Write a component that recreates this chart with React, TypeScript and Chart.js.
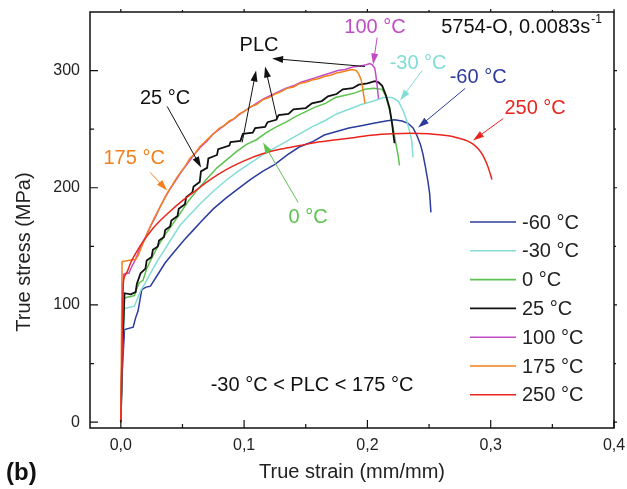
import { useEffect, useRef } from "react";
import { Chart, registerables } from "chart.js";

Chart.register(...registerables);

const FONT = '"Liberation Sans", Arial, Helvetica, sans-serif';

// ---------- data (true strain, true stress MPa) ----------
const strainM60 = [0, 0.001, 0.003, 0.010, 0.012, 0.014, 0.017, 0.020, 0.024, 0.030, 0.036, 0.043, 0.051, 0.058, 0.065, 0.075, 0.085, 0.095, 0.105, 0.115, 0.125, 0.135, 0.145, 0.155, 0.165, 0.175, 0.185, 0.195, 0.205, 0.215, 0.222, 0.228, 0.233, 0.237, 0.240, 0.243, 0.245, 0.247, 0.249, 0.2505, 0.2515];
const stressM60 = [0, 40, 79, 81, 89, 95, 113, 115, 116, 126, 136, 145, 155, 163, 171, 182, 191, 199, 207, 214, 220, 228, 235, 239, 245, 248, 251, 253, 255, 257, 258, 257, 255, 251, 245, 237, 229, 218, 206, 195, 179];

const strainM30 = [0, 0.001, 0.003, 0.011, 0.013, 0.016, 0.020, 0.024, 0.030, 0.036, 0.042, 0.048, 0.056, 0.065, 0.075, 0.085, 0.095, 0.105, 0.115, 0.125, 0.135, 0.145, 0.155, 0.165, 0.175, 0.185, 0.195, 0.205, 0.213, 0.220, 0.225, 0.229, 0.232, 0.234, 0.236, 0.237];
const stressM30 = [0, 50, 97, 99, 104, 112, 119, 127, 138, 148, 158, 168, 177, 187, 197, 206, 214, 221, 228, 234, 240, 246, 252, 257, 263, 267, 271, 274, 277, 277, 274, 266, 257, 249, 240, 226];

const strain0 = [0, 0.001, 0.003, 0.011, 0.013, 0.015, 0.018, 0.021, 0.025, 0.030, 0.036, 0.042, 0.048, 0.055, 0.062, 0.070, 0.078, 0.086, 0.094, 0.102, 0.110, 0.118, 0.126, 0.134, 0.142, 0.150, 0.158, 0.166, 0.174, 0.182, 0.190, 0.198, 0.205, 0.212, 0.215, 0.218, 0.221, 0.223, 0.225, 0.226];
const stress0 = [0, 55, 106, 108, 114, 119, 121, 131, 140, 150, 160, 169, 178, 189, 198, 208, 217, 224, 231, 237, 241, 247, 252, 256, 261, 265, 269, 272, 277, 279, 281, 284, 285, 284, 278, 266, 250, 238, 227, 219];

const strain25 = [0, 0.001, 0.003, 0.008, 0.012, 0.013, 0.016, 0.020, 0.021, 0.025, 0.026, 0.030, 0.031, 0.035, 0.036, 0.040, 0.041, 0.046, 0.047, 0.052, 0.053, 0.058, 0.059, 0.064, 0.065, 0.070, 0.071, 0.078, 0.079, 0.088, 0.089, 0.097, 0.099, 0.107, 0.109, 0.117, 0.119, 0.126, 0.128, 0.136, 0.140, 0.150, 0.155, 0.163, 0.168, 0.175, 0.180, 0.188, 0.193, 0.200, 0.206, 0.209, 0.212, 0.215, 0.218, 0.220, 0.221, 0.222];
const stress25 = [0, 55, 110, 109, 111, 118, 127, 131, 138, 141, 147, 150, 155, 158, 164, 167, 172, 176, 182, 186, 192, 196, 201, 205, 214, 217, 225, 228, 233, 236, 239, 240, 246, 247, 251, 252, 256, 258, 262, 263, 267, 268, 272, 274, 278, 280, 284, 285, 288, 289, 291, 290, 287, 279, 268, 255, 246, 238];

const strain100 = [0, 0.001, 0.002, 0.004, 0.0065, 0.009, 0.012, 0.016, 0.020, 0.024, 0.028, 0.032, 0.036, 0.040, 0.045, 0.050, 0.055, 0.060, 0.065, 0.070, 0.075, 0.080, 0.086, 0.092, 0.098, 0.104, 0.110, 0.116, 0.122, 0.128, 0.134, 0.140, 0.146, 0.152, 0.158, 0.164, 0.170, 0.176, 0.182, 0.188, 0.194, 0.199, 0.202, 0.204, 0.206, 0.207, 0.208, 0.209];
const stress100 = [0, 65, 126, 127, 127, 133, 139, 150, 158, 167, 175, 184, 192, 199, 207, 215, 222, 229, 235, 240, 246, 250, 255, 259, 264, 268, 272, 276, 279, 282, 285, 287, 290, 292, 294, 296, 298, 300, 301, 303, 304, 305, 306, 305, 302, 295, 286, 276];

const strain175 = [0, 0.0005, 0.001, 0.006, 0.012, 0.014, 0.017, 0.021, 0.024, 0.027, 0.031, 0.034, 0.038, 0.041, 0.045, 0.049, 0.052, 0.056, 0.060, 0.064, 0.068, 0.072, 0.076, 0.080, 0.084, 0.088, 0.092, 0.096, 0.100, 0.105, 0.110, 0.115, 0.120, 0.125, 0.130, 0.135, 0.140, 0.145, 0.150, 0.155, 0.160, 0.165, 0.170, 0.175, 0.180, 0.184, 0.188, 0.191, 0.193, 0.195, 0.196, 0.197, 0.198];
const stress175 = [0, 70, 137, 138, 139, 142, 150, 160, 167, 174, 182, 188, 196, 201, 208, 214, 218, 225, 229, 235, 239, 243, 247, 251, 253, 257, 259, 263, 265, 269, 271, 275, 277, 280, 282, 285, 286, 289, 290, 292, 293, 295, 296, 298, 299, 300, 301, 300, 297, 292, 286, 279, 272];

const strain250 = [0, 0.001, 0.002, 0.004, 0.008, 0.012, 0.018, 0.025, 0.032, 0.040, 0.050, 0.060, 0.070, 0.080, 0.090, 0.100, 0.115, 0.130, 0.145, 0.160, 0.175, 0.190, 0.205, 0.220, 0.235, 0.250, 0.260, 0.268, 0.275, 0.281, 0.286, 0.290, 0.294, 0.297, 0.299, 0.301];
const stress250 = [0, 60, 118, 126, 136, 144, 154, 164, 172, 180, 189, 197, 205, 212, 218, 223, 229, 233, 236, 239, 241, 243, 245, 246, 246.5, 246, 245, 244, 242, 240, 237, 233, 227, 220, 214, 207];

const seriesLabels = ["-60 °C", "-30 °C", "0 °C", "25 °C", "100 °C", "175 °C", "250 °C"];
const seriesColors = ["#2c3c9c", "#84dcd6", "#5dc250", "#111111", "#c24cc6", "#f4801c", "#e8261e"];
const seriesStrain = [strainM60, strainM30, strain0, strain25, strain100, strain175, strain250];
const seriesStress = [stressM60, stressM30, stress0, stress25, stress100, stress175, stress250];
const seriesOrder = [6, 5, 4, 3, 2, 1, 0];

const xTicks = [0, 0.1, 0.2, 0.3, 0.4];
const xMinorTicks = [0.05, 0.15, 0.25, 0.35];
const yTicks = [0, 100, 200, 300];
const yMinorTicks = [50, 150, 250];

const xTitle = "True strain (mm/mm)";
const yTitle = "True stress (MPa)";
const noteText = "-30 °C < PLC < 175 °C";

// text labels in data coordinates
const labels = [
  { text: "100 °C", color: "#c24cc6", x: 0.2062, y: 336.8 },
  { text: "PLC", color: "#111111", x: 0.1121, y: 321.4 },
  { text: "25 °C", color: "#111111", x: 0.0359, y: 276.2 },
  { text: "175 °C", color: "#f4801c", x: 0.0108, y: 225.0 },
  { text: "0 °C", color: "#5dc250", x: 0.1519, y: 174.7 },
  { text: "-30 °C", color: "#84dcd6", x: 0.2411, y: 306.1 },
  { text: "-60 °C", color: "#2c3c9c", x: 0.2898, y: 294.1 },
  { text: "250 °C", color: "#e8261e", x: 0.336, y: 267.7 },
  { text: noteText, color: "#111111", x: 0.1551, y: 31.3 },
];

// arrows in data coordinates (tail -> head)
const arrows = [
  { color: "#c24cc6", x1: 0.2079, y1: 328.2, x2: 0.2046, y2: 305.2 },
  { color: "#111111", x1: 0.1981, y1: 303.5, x2: 0.1227, y2: 310.3 },
  { color: "#111111", x1: 0.0984, y1: 238.7, x2: 0.1097, y2: 300.1 },
  { color: "#111111", x1: 0.1268, y1: 258.3, x2: 0.1170, y2: 303.5 },
  { color: "#111111", x1: 0.0376, y1: 269.4, x2: 0.0651, y2: 217.3 },
  { color: "#f4801c", x1: 0.0238, y1: 213.1, x2: 0.0376, y2: 197.7 },
  { color: "#5dc250", x1: 0.1438, y1: 187.5, x2: 0.1154, y2: 238.7 },
  { color: "#84dcd6", x1: 0.2444, y1: 300.1, x2: 0.2265, y2: 274.5 },
  { color: "#2c3c9c", x1: 0.2793, y1: 284.8, x2: 0.2411, y2: 251.4 },
  { color: "#e8261e", x1: 0.3101, y1: 259.1, x2: 0.2857, y2: 240.4 },
];

const fmtX = (v: number) => v.toFixed(1).replace(".", ",");

function drawArrow(ctx: CanvasRenderingContext2D, x1: number, y1: number, x2: number, y2: number, color: string) {
  const ang = Math.atan2(y2 - y1, x2 - x1);
  const L = 11;
  const W = 3.5;
  ctx.strokeStyle = color;
  ctx.fillStyle = color;
  ctx.lineWidth = 1;
  ctx.beginPath();
  ctx.moveTo(x1, y1);
  ctx.lineTo(x2 - L * 0.7 * Math.cos(ang), y2 - L * 0.7 * Math.sin(ang));
  ctx.stroke();
  ctx.beginPath();
  ctx.moveTo(x2, y2);
  ctx.lineTo(x2 - L * Math.cos(ang) + W * Math.sin(ang), y2 - L * Math.sin(ang) - W * Math.cos(ang));
  ctx.lineTo(x2 - L * Math.cos(ang) - W * Math.sin(ang), y2 - L * Math.sin(ang) + W * Math.cos(ang));
  ctx.closePath();
  ctx.fill();
}

const overlay = {
  id: "overlay",
  afterDatasetsDraw(chart: any) {
    const { ctx, chartArea: ca, scales } = chart;
    const xs = scales.x;
    const ys = scales.y;
    ctx.save();

    // frame
    ctx.strokeStyle = "#111";
    ctx.lineWidth = 1.5;
    ctx.strokeRect(ca.left, ca.top, ca.right - ca.left, ca.bottom - ca.top);

    // ticks
    ctx.lineWidth = 1.2;
    ctx.beginPath();
    xTicks.forEach((v) => {
      const px = xs.getPixelForValue(v);
      ctx.moveTo(px, ca.bottom);
      ctx.lineTo(px, ca.bottom - 8);
      ctx.moveTo(px, ca.top);
      ctx.lineTo(px, ca.top - 3);
    });
    xMinorTicks.forEach((v) => {
      const px = xs.getPixelForValue(v);
      ctx.moveTo(px, ca.bottom);
      ctx.lineTo(px, ca.bottom - 4);
      ctx.moveTo(px, ca.top);
      ctx.lineTo(px, ca.top - 2);
    });
    yTicks.forEach((v) => {
      const py = ys.getPixelForValue(v);
      ctx.moveTo(ca.left, py);
      ctx.lineTo(ca.left + 8, py);
      ctx.moveTo(ca.right, py);
      ctx.lineTo(ca.right + 3, py);
    });
    yMinorTicks.forEach((v) => {
      const py = ys.getPixelForValue(v);
      ctx.moveTo(ca.left, py);
      ctx.lineTo(ca.left + 4, py);
      ctx.moveTo(ca.right, py);
      ctx.lineTo(ca.right + 2, py);
    });
    ctx.stroke();

    // tick labels
    ctx.fillStyle = "#222";
    ctx.font = `16px ${FONT}`;
    ctx.textBaseline = "middle";
    ctx.textAlign = "center";
    xTicks.forEach((v) => ctx.fillText(fmtX(v), xs.getPixelForValue(v), ca.bottom + 18));
    ctx.textAlign = "right";
    yTicks.forEach((v) => ctx.fillText(String(v), ca.left - 10, ys.getPixelForValue(v)));

    // axis titles
    ctx.font = `20px ${FONT}`;
    ctx.textAlign = "center";
    ctx.fillText(xTitle, (ca.left + ca.right) / 2, ca.bottom + 44);
    ctx.save();
    ctx.translate(24, (ca.top + ca.bottom) / 2 + 32);
    ctx.rotate(-Math.PI / 2);
    ctx.fillText(yTitle, 0, 0);
    ctx.restore();

    // panel label
    ctx.font = `bold 24px ${FONT}`;
    ctx.textAlign = "left";
    ctx.fillStyle = "#111";
    ctx.fillText("(b)", 6, ca.bottom + 45);

    // condition label with superscript
    ctx.font = `20px ${FONT}`;
    ctx.fillStyle = "#111";
    const mainTxt = "5754-O, 0.0083s";
    const tx = xs.getPixelForValue(0.2598);
    const ty = ys.getPixelForValue(336.8);
    ctx.fillText(mainTxt, tx, ty);
    const w = ctx.measureText(mainTxt).width;
    ctx.font = `12px ${FONT}`;
    ctx.fillText("-1", tx + w + 1, ty - 8);

    // annotations
    ctx.font = `20px ${FONT}`;
    ctx.textAlign = "center";
    labels.forEach((l) => {
      ctx.fillStyle = l.color;
      ctx.fillText(l.text, xs.getPixelForValue(l.x), ys.getPixelForValue(l.y));
    });
    arrows.forEach((a) =>
      drawArrow(ctx, xs.getPixelForValue(a.x1), ys.getPixelForValue(a.y1), xs.getPixelForValue(a.x2), ys.getPixelForValue(a.y2), a.color)
    );

    // legend
    const lx0 = ca.right - 144;
    const lx1 = ca.right - 98;
    const ly0 = ca.top + 210;
    const step = 28.8;
    ctx.textAlign = "left";
    ctx.font = `20px ${FONT}`;
    chart.data.datasets.forEach((ds: any, i: number) => {
      const yy = ly0 + i * step;
      ctx.strokeStyle = ds.borderColor;
      ctx.lineWidth = 1.6;
      ctx.beginPath();
      ctx.moveTo(lx0, yy);
      ctx.lineTo(lx1, yy);
      ctx.stroke();
      ctx.fillStyle = "#222";
      ctx.fillText(ds.label, lx1 + 6, yy + 1);
    });

    ctx.restore();
  },
};

export default function App() {
  const ref = useRef<HTMLCanvasElement | null>(null);
  useEffect(() => {
    if (!ref.current) return;
    const datasets = seriesLabels.map((label, i) => {
      const xsA = seriesStrain[i];
      const ysA = seriesStress[i];
      const n = Math.min(xsA.length, ysA.length);
      const pts = [];
      for (let k = 0; k < n; k++) pts.push({ x: xsA[k], y: ysA[k] });
      return {
        label,
        data: pts,
        borderColor: seriesColors[i],
        backgroundColor: seriesColors[i],
        borderWidth: i === 3 ? 1.8 : 1.5,
        pointRadius: 0,
        tension: 0,
        cubicInterpolationMode: i === 6 ? "monotone" : "default",
        fill: false,
        order: seriesOrder[i],
      };
    });
    const chart = new Chart(ref.current, {
      type: "line",
      data: { datasets },
      options: {
        responsive: false,
        animation: false,
        devicePixelRatio: 1,
        layout: { padding: { left: 0, right: 13, top: 12, bottom: 0 }, autoPadding: false },
        plugins: { legend: { display: false }, tooltip: { enabled: false } },
        scales: {
          x: {
            type: "linear",
            min: -0.025,
            max: 0.4,
            grid: { display: false },
            border: { display: false },
            ticks: { display: false },
            afterFit: (s: any) => {
              s.height = 61;
            },
          },
          y: {
            type: "linear",
            min: -5,
            max: 350,
            grid: { display: false },
            border: { display: false },
            ticks: { display: false },
            afterFit: (s: any) => {
              s.width = 90;
            },
          },
        },
      },
      plugins: [overlay],
    });
    return () => chart.destroy();
  }, []);
  return (
    <div style={{ position: "fixed", left: 0, top: 0, width: 627, height: 489, background: "#fff" }}>
      <canvas ref={ref} width={627} height={489} style={{ display: "block" }} />
    </div>
  );
}
